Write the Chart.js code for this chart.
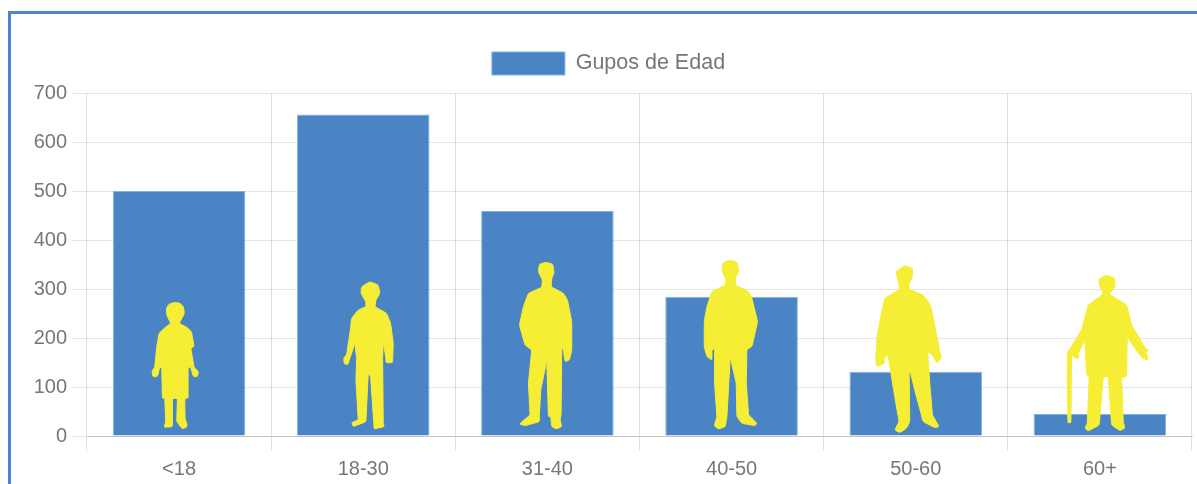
<!DOCTYPE html>
<html>
<head>
<meta charset="utf-8">
<title>Gupos de Edad</title>
<script src="https://cdn.jsdelivr.net/npm/chart.js@4"></script>
<style>
    html, body { margin: 0; padding: 0; background: #fff; overflow: hidden; }
    #wrap { position: relative; width: 1197px; height: 484px; }
    #frame { position: absolute; left: 8px; top: 11px; right: 0; bottom: 0; border-left: 3px solid #4a86c8; border-top: 3px solid #4a86c8; }
    canvas { position: absolute; left: 0; top: 0; }
</style>
</head>
<body>
<div id="wrap">
    <div id="frame"></div>
    <canvas id="age-chart" width="1197" height="484"></canvas>
</div>
<script>
const categories = ['<18', '18-30', '31-40', '40-50', '50-60', '60+'];
const seriesLabel = 'Gupos de Edad';
const seriesValues = [500, 656, 459, 284, 131, 45];
const yTicks = [0, 100, 200, 300, 400, 500, 600, 700];

// Silhouette outlines traced at 3x. ox/oy is the point of the outline that sits
// on the bar centre at value 0.
const figures = [
    { ox: 535, oy: 468, parts: [[523,67, 538,70, 548,80, 551,100, 545,112, 535,130, 560,143, 572,155, 580,200, 570,205, 580,262, 593,275, 590,290, 578,290, 570,262, 562,262, 562,355, 552,355, 553,415, 560,440, 545,447, 528,425, 530,355, 515,355, 515,440, 490,442, 495,425, 492,355, 485,355, 483,262, 477,262, 470,290, 456,290, 454,272, 462,262, 468,200, 475,160, 490,145, 510,130, 498,105, 497,85, 505,72]] },
    { ox: 1090, oy: 468, parts: [[1110,5, 1135,15, 1140,40, 1128,60, 1125,80, 1160,100, 1172,130, 1180,190, 1178,248, 1158,248, 1158,235, 1150,185, 1148,235, 1150,430, 1153,440, 1122,447, 1122,432, 1112,290, 1105,280, 1098,425, 1060,440, 1055,428, 1075,420, 1068,300, 1070,235, 1065,190, 1043,255, 1032,250, 1032,232, 1040,225, 1052,145, 1055,115, 1075,90, 1098,80, 1098,65, 1083,40, 1085,20]] },
    { ox: 202, oy: 558, parts: [[198,37, 218,42, 222,68, 215,85, 213,110, 250,130, 262,150, 275,215, 275,300, 268,330, 255,335, 250,300, 245,290, 243,495, 240,510, 245,530, 228,537, 215,530, 212,500, 205,500, 200,330, 182,420, 178,495, 178,515, 135,527, 118,522, 150,495, 145,400, 155,300, 135,285, 118,225, 130,170, 145,130, 185,112, 187,90, 175,65, 178,42]] },
    { ox: 754, oy: 558, parts: [[750,30, 772,38, 775,65, 765,85, 765,105, 805,125, 815,145, 832,215, 815,290, 800,298, 798,400, 805,495, 830,520, 825,527, 785,520, 770,500, 768,400, 750,320, 745,410, 740,500, 735,530, 715,537, 702,528, 710,500, 703,400, 703,295, 695,300, 695,330, 680,320, 672,290, 672,215, 680,170, 695,125, 735,105, 737,90, 725,60, 728,38]] },
    { ox: 228, oy: 558, parts: [[195,47, 218,55, 218,80, 208,100, 208,118, 250,135, 272,165, 285,225, 300,305, 305,322, 292,340, 278,315, 262,305, 265,320, 270,400, 278,495, 298,530, 285,533, 250,515, 245,495, 225,420, 208,350, 210,515, 200,535, 180,548, 165,540, 178,515, 165,440, 145,315, 132,325, 135,340, 110,350, 108,325, 112,260, 125,190, 135,145, 180,118, 175,90, 168,65]] },
    { ox: 780, oy: 558, parts: [[800,76, 825,85, 825,110, 810,130, 812,135, 860,165, 875,225, 918,298, 928,300, 918,305, 925,330, 908,325, 885,295, 862,260, 860,380, 845,382, 850,515, 855,535, 840,542, 815,525, 805,380, 790,380, 778,525, 745,543, 735,535, 742,520, 748,380, 740,375, 735,270, 715,310, 718,325, 708,325, 695,315, 685,305, 725,240, 745,165, 780,140, 790,130, 778,105, 778,85], [682,305, 695,300, 693,518, 684,518]] }
];

function traceRounded(ctx, pts, radius) {
    // straight edges with each corner cut by a small curve
    const n = pts.length;
    pts.forEach((p, i) => {
        const prev = pts[(i + n - 1) % n];
        const next = pts[(i + 1) % n];
        const d1 = Math.hypot(prev[0] - p[0], prev[1] - p[1]);
        const d2 = Math.hypot(next[0] - p[0], next[1] - p[1]);
        const t1 = Math.min(radius, d1 / 2) / d1;
        const t2 = Math.min(radius, d2 / 2) / d2;
        ctx.lineTo(p[0] + (prev[0] - p[0]) * t1, p[1] + (prev[1] - p[1]) * t1);
        ctx.quadraticCurveTo(p[0], p[1], p[0] + (next[0] - p[0]) * t2, p[1] + (next[1] - p[1]) * t2);
    });
    ctx.closePath();
}

const figurePlugin = {
    id: 'figures',
    afterDatasetsDraw(chart) {
        const ctx = chart.ctx;
        const x = chart.scales.x;
        const y = chart.scales.y;
        ctx.save();
        ctx.fillStyle = '#f5ee35';
        ctx.strokeStyle = '#f5ee35';
        ctx.lineWidth = 1;
        ctx.lineJoin = 'round';
        figures.forEach((fig, index) => {
            const baseX = x.getPixelForValue(index);
            const baseY = y.getPixelForValue(0);
            fig.parts.forEach((part, partIndex) => {
                const pts = [];
                for (let i = 0; i < part.length; i += 2) {
                    pts.push([baseX + (part[i] - fig.ox) / 3, baseY + (part[i + 1] - fig.oy) / 3]);
                }
                ctx.beginPath();
                traceRounded(ctx, pts, partIndex === 0 ? 1.5 : 0.5);
                ctx.fill();
                ctx.stroke();
            });
        });
        ctx.restore();
    }
};

// keeps a gap between the legend and the plot
const legendGap = {
    id: 'legendGap',
    beforeInit(chart) {
        const fit = chart.legend.fit;
        chart.legend.fit = function () {
            fit.call(chart.legend);
            this.height += 8;
        };
    }
};

const tickFont = { family: '"Liberation Sans", Arial, sans-serif', size: 20 };

new Chart(document.getElementById('age-chart').getContext('2d'), {
    type: 'bar',
    data: {
        labels: categories,
        datasets: [{
            label: seriesLabel,
            data: seriesValues,
            backgroundColor: '#4a84c4',
            borderColor: '#7db4e6',
            borderWidth: 1,
        }],
    },
    options: {
        responsive: false,
        animation: false,
        layout: { padding: { left: 25, right: 5, top: 34, bottom: -3 } },
        scales: {
            x: {
                grid: { color: 'rgba(0, 0, 0, 0.12)', tickLength: 15 },
                border: { color: 'rgba(0, 0, 0, 0.15)' },
                ticks: { color: '#777', font: tickFont, padding: 6, maxRotation: 0 },
            },
            y: {
                min: 0,
                max: 700,
                afterFit(scale) { scale.width = 62; },
                afterBuildTicks(scale) { scale.ticks = yTicks.map(value => ({ value })); },
                grid: { color: 'rgba(0, 0, 0, 0.1)', tickLength: 15 },
                border: { display: false },
                ticks: { color: '#777', font: tickFont, padding: 5 },
            },
        },
        plugins: {
            legend: {
                labels: {
                    color: '#777',
                    font: { family: '"Liberation Sans", Arial, sans-serif', size: 21.5 },
                    boxWidth: 73,
                    boxHeight: 23,
                    padding: 18,
                },
            },
            tooltip: { enabled: false },
        },
    },
    plugins: [legendGap, figurePlugin],
});
</script>
</body>
</html>
